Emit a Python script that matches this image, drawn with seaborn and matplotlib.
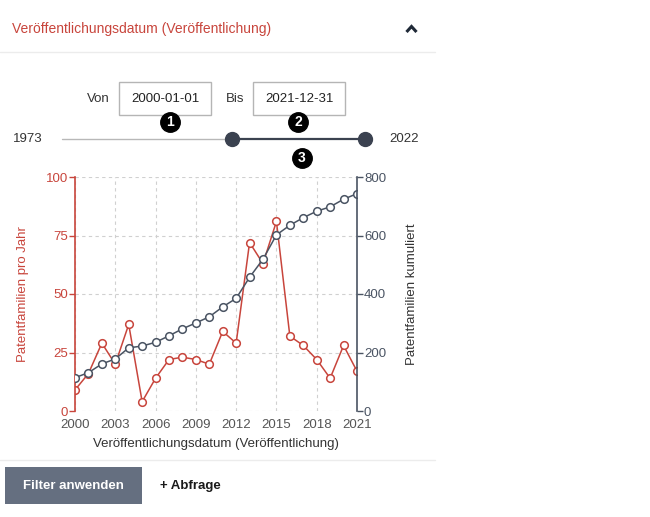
import numpy as np
import pandas as pd
import seaborn as sns
import matplotlib.pyplot as plt
from matplotlib.lines import Line2D
from matplotlib.patches import Rectangle

jahre = list(range(2000, 2022))
pro_jahr = [9, 16, 29, 20, 37, 4, 14, 22, 23, 22, 20, 34, 29, 72, 63, 81, 32, 28, 22, 14, 28, 17]
kumuliert = [114, 131, 161, 178, 216, 222, 235, 257, 281, 301, 322, 356, 385, 457, 519, 602,
             635, 661, 683, 698, 724, 743]
x_ticks = [2000, 2003, 2006, 2009, 2012, 2015, 2018, 2021]
links_ticks = [0, 25, 50, 75, 100]
rechts_ticks = [0, 200, 400, 600, 800]

data = pd.DataFrame({'Jahr': jahre, 'pro Jahr': pro_jahr, 'kumuliert': kumuliert})

sns.set_style('white')
plt.rcParams['font.family'] = ['Liberation Sans', 'DejaVu Sans']

ROT = '#c8453c'
GRAU = '#4a5463'
W, H = 650, 517


def fx(x):
    return x / W


def fy(y):
    return 1 - y / H


fig = plt.figure(figsize=(6.5, 5.17), dpi=100)

# Kopfzeile
fig.text(fx(12), fy(29), 'Veröffentlichungsdatum (Veröffentlichung)', color=ROT,
         fontsize=10, va='center', ha='left')
fig.add_artist(Line2D([fx(406.5), fx(411.5), fx(416.5)], [fy(32), fy(26.5), fy(32)],
                      color='#1f2937', lw=2.2, solid_capstyle='butt', solid_joinstyle='miter'))
fig.add_artist(Line2D([0, fx(435)], [fy(52), fy(52)], color='#ececec', lw=1))
fig.add_artist(Line2D([0, fx(435)], [fy(460), fy(460)], color='#ececec', lw=1))

# Datumsfelder
fig.text(fx(110), fy(99), 'Von', color='#333333', fontsize=9.5, va='center', ha='right')
fig.text(fx(244), fy(99), 'Bis', color='#333333', fontsize=9.5, va='center', ha='right')
for x0, txt in [(119, '2000-01-01'), (253, '2021-12-31')]:
    fig.add_artist(Rectangle((fx(x0), fy(115)), fx(92), 33 / H, transform=fig.transFigure,
                             facecolor='white', edgecolor='#b5b5b5', lw=1))
    fig.text(fx(x0 + 46), fy(99), txt, color='#222222', fontsize=9.5, va='center', ha='center')

# Schieberegler
fig.text(fx(28), fy(139), '1973', color='#333333', fontsize=9.5, va='center', ha='center')
fig.text(fx(404), fy(139), '2022', color='#333333', fontsize=9.5, va='center', ha='center')
fig.add_artist(Line2D([fx(62), fx(232)], [fy(139), fy(139)], color='#b8b8b8', lw=1))
fig.add_artist(Line2D([fx(232), fx(365)], [fy(139), fy(139)], color='#3b4250', lw=1.6))
fig.add_artist(Line2D([fx(232), fx(365)], [fy(139), fy(139)], color='#3b4250', lw=0,
                      marker='o', markersize=10))

# Nummern
for xc, yc, n in [(170, 122, '1'), (298, 122, '2'), (302, 158, '3')]:
    fig.add_artist(Line2D([fx(xc)], [fy(yc)], color='black', lw=0, marker='o', markersize=14))
    fig.text(fx(xc), fy(yc + 0.5), n, color='white', fontsize=10, fontweight='bold',
             va='center', ha='center')

# Diagramm
ax = fig.add_axes([fx(75), fy(411), fx(357) - fx(75), (411 - 177) / H])
ax2 = ax.twinx()

sns.lineplot(data=data, x='Jahr', y='pro Jahr', ax=ax, color=ROT, lw=1.1, marker='o',
             markersize=5.5, markerfacecolor='white', markeredgecolor=ROT, markeredgewidth=1.1)
sns.lineplot(data=data, x='Jahr', y='kumuliert', ax=ax2, color=GRAU, lw=1.1, marker='o',
             markersize=5.5, markerfacecolor='white', markeredgecolor=GRAU, markeredgewidth=1.1)

ax.set_xlim(2000, 2021)
ax.set_ylim(0, 100)
ax2.set_ylim(0, 800)
ax.set_xticks(x_ticks)
ax.set_yticks(links_ticks)
ax2.set_yticks(rechts_ticks)

ax.grid(True, color='#d0d0d0', ls=(0, (3, 3)), lw=0.8)
ax2.grid(False)
for a in (ax, ax2):
    a.spines['top'].set_visible(False)
    a.spines['bottom'].set_visible(False)
ax.spines['left'].set_color(ROT)
ax.spines['left'].set_linewidth(1.2)
ax.spines['right'].set_visible(False)
ax2.spines['left'].set_visible(False)
ax2.spines['right'].set_color(GRAU)
ax2.spines['right'].set_linewidth(1.2)

ax.tick_params(axis='y', colors=ROT, labelsize=9.5, length=4, width=1, direction='out', pad=1)
ax.tick_params(axis='x', colors='#888888', labelcolor='#555555', labelsize=9.5, length=3,
               width=0.8, direction='out', pad=3)
ax2.tick_params(axis='y', colors=GRAU, labelsize=9.5, length=4, width=1, direction='out',
                pad=1)

ax.set_xlabel('Veröffentlichungsdatum (Veröffentlichung)', color='#333333', fontsize=9.5,
              labelpad=5)
ax.set_ylabel('Patentfamilien pro Jahr', color=ROT, fontsize=9.5, labelpad=12)
ax2.set_ylabel('Patentfamilien kumuliert', color='#333333', fontsize=9.5, labelpad=14)

# Schaltflächen
fig.add_artist(Rectangle((fx(5), fy(504)), fx(137), 37 / H, transform=fig.transFigure,
                         facecolor='#656f80', edgecolor='none'))
fig.text(fx(73.5), fy(486), 'Filter anwenden', color='white', fontsize=9.5,
         fontweight='bold', va='center', ha='center')
fig.text(fx(160), fy(486), '+ Abfrage', color='#1a1a1a', fontsize=9.5, fontweight='bold',
         va='center', ha='left')

fig.savefig('out.png', dpi=100)
